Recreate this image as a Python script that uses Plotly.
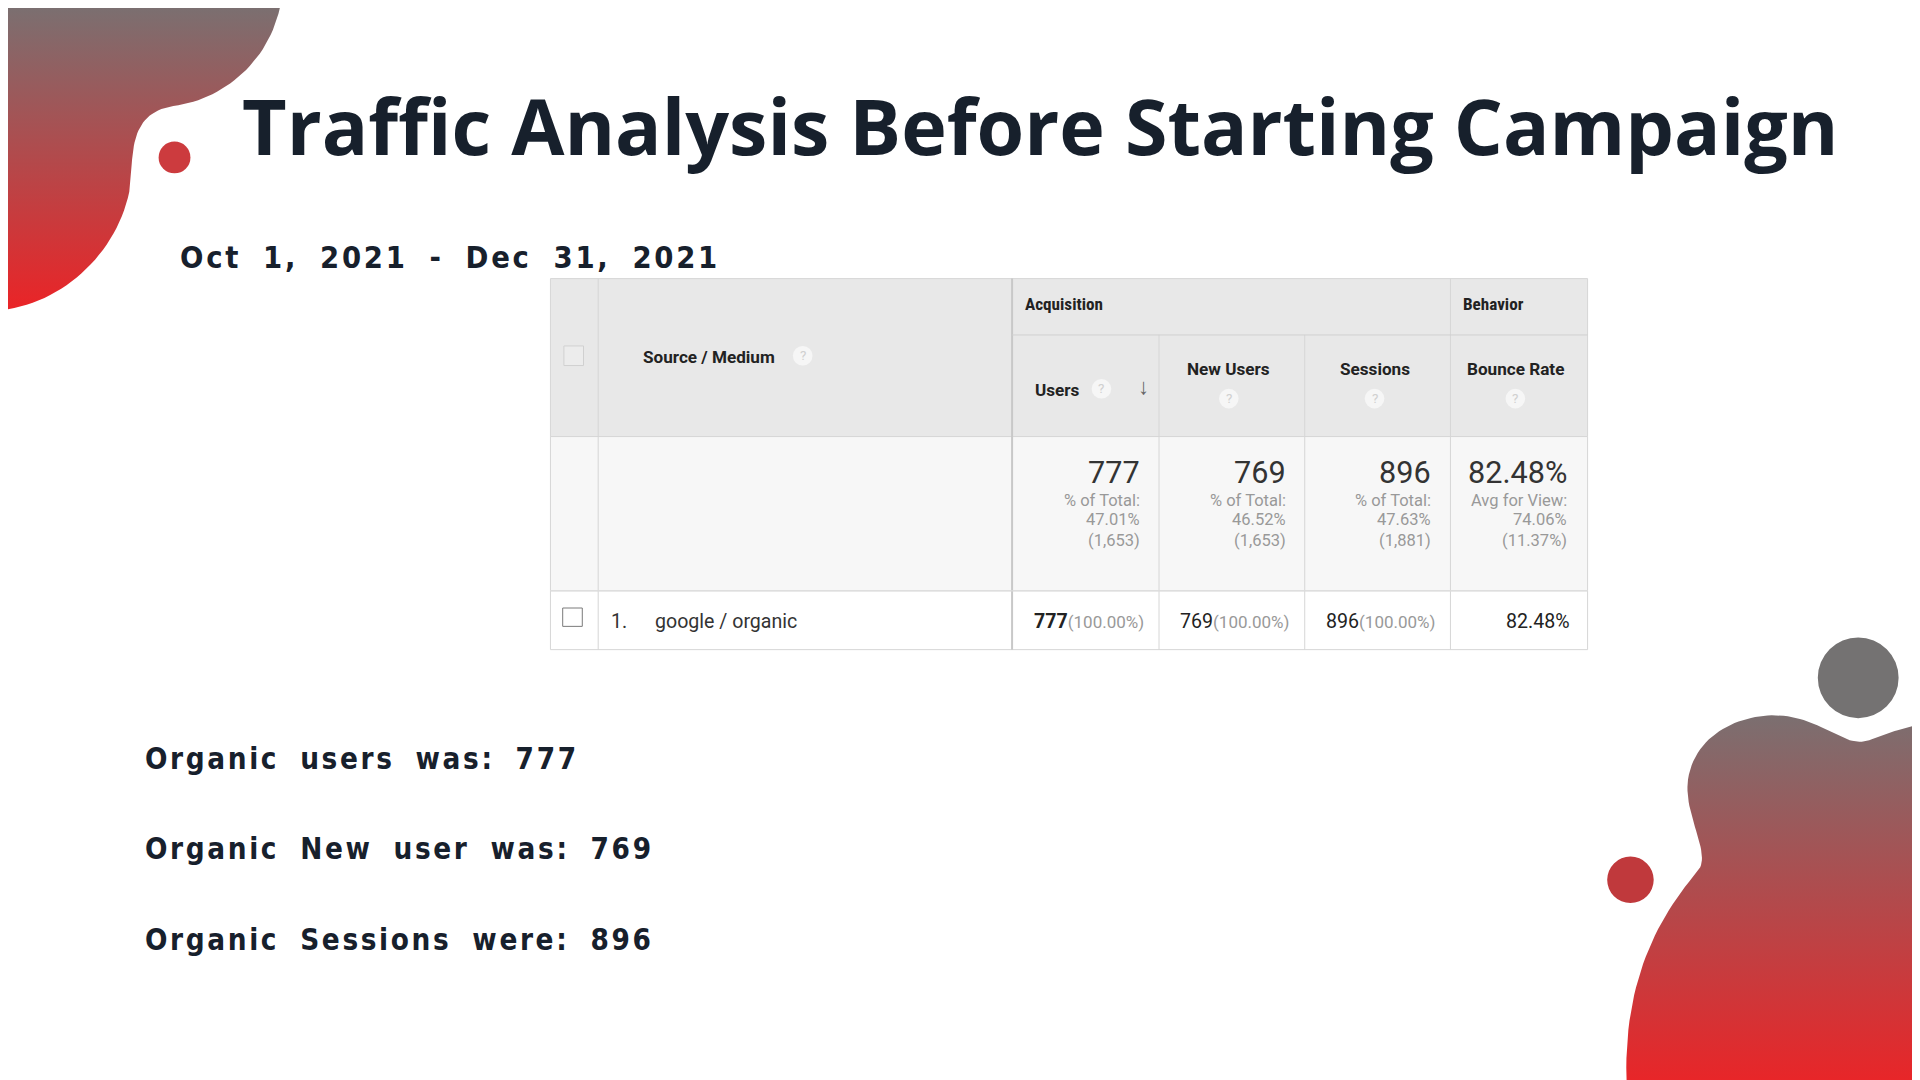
import numpy as np
import plotly.graph_objects as go

W, H = 1568, 882
S = 1920 / W  # font scale from reference units to screen px

title = "Traffic Analysis Before Starting Campaign"
date_range = "Oct 1, 2021 - Dec 31, 2021"
columns = ["Users", "New Users", "Sessions", "Bounce Rate"]
totals = ["777", "769", "896", "82.48%"]
total_labels = ["% of Total:", "% of Total:", "% of Total:", "Avg for View:"]
total_pcts = ["47.01%", "46.52%", "47.63%", "74.06%"]
total_base = ["(1,653)", "(1,653)", "(1,881)", "(11.37%)"]
row_source = "google / organic"
row_values = ["777", "769", "896", "82.48%"]
row_shares = ["(100.00%)", "(100.00%)", "(100.00%)", ""]
summary = ["Organic users was: 777", "Organic New user was: 769", "Organic Sessions were: 896"]

col_x = [443, 482, 820, 940, 1059, 1178, 1290]
row_y = [221, 267, 350, 476, 524]


def spaced(s):
    # wide tracking of the slide's condensed font
    return "\u200a".join(list(s)).replace(" ", "  ")


def bezier(p0, p1, p2, p3, n=30):
    t = np.linspace(0, 1, n)[:, None]
    p = (1 - t) ** 3 * np.array(p0) + 3 * (1 - t) ** 2 * t * np.array(p1) \
        + 3 * (1 - t) * t ** 2 * np.array(p2) + t ** 3 * np.array(p3)
    return p


def path(start, curves):
    pts = [np.array([start])]
    cur = start
    for c in curves:
        if len(c) == 1:
            pts.append(np.array([c[0]]))
            cur = c[0]
        else:
            pts.append(bezier(cur, *c))
            cur = c[-1]
    p = np.vstack(pts)
    return p[:, 0], p[:, 1]


fig = go.Figure()
red, grey = "#ea2427", "#7b6f70"

# top-left blob
bx, by = path((0, 0), [
    [(222, 0)],
    ((212, 45), (175, 75), (135, 80)),
    ((100, 86), (102, 115), (100, 145)),
    ((92, 195), (50, 238), (0, 246)),
    [(0, 0)],
])
fig.add_trace(go.Scatter(x=bx, y=by, fill="toself", mode="lines", line=dict(width=0),
                         fillgradient=dict(type="vertical", start=246, stop=0,
                                           colorscale=[[0, red], [1, grey]]),
                         hoverinfo="skip", showlegend=False))

# bottom-right blob
bx, by = path((1322, 882), [
    ((1318, 800), (1345, 745), (1380, 705)),
    ((1392, 690), (1368, 660), (1372, 630)),
    ((1378, 590), (1420, 575), (1450, 578)),
    ((1485, 582), (1500, 605), (1520, 598)),
    ((1540, 590), (1555, 586), (1568, 584)),
    [(1568, 882)],
    [(1322, 882)],
])
fig.add_trace(go.Scatter(x=bx, y=by, fill="toself", mode="lines", line=dict(width=0),
                         fillgradient=dict(type="vertical", start=882, stop=578,
                                           colorscale=[[0, red], [1, grey]]),
                         hoverinfo="skip", showlegend=False))

shapes = []


def circle(cx, cy, r, color, line=None):
    shapes.append(dict(type="circle", x0=cx - r, x1=cx + r, y0=cy - r, y1=cy + r,
                       fillcolor=color, line=dict(width=1 if line else 0, color=line or color)))


circle(136, 122, 13, "#cc3b3e")
circle(1511, 547, 33, "#747272")
circle(1325, 712, 19, "#c0393c")


def rect(x0, y0, x1, y1, fill, lc="#d6d6d6", lw=1):
    shapes.append(dict(type="rect", x0=x0, x1=x1, y0=y0, y1=y1, fillcolor=fill,
                       line=dict(color=lc, width=lw)))


rect(col_x[0], row_y[0], col_x[-1], row_y[2], "#e8e8e8")
rect(col_x[0], row_y[2], col_x[-1], row_y[3], "#f7f7f7")
rect(col_x[0], row_y[3], col_x[-1], row_y[4], "#ffffff")
for x in col_x[1:-1]:
    y0 = row_y[1] if x in col_x[3:5] else row_y[0]
    lw = 2 if x == 820 else 1
    shapes.append(dict(type="line", x0=x, x1=x, y0=y0, y1=row_y[4],
                       line=dict(color="#c8c8c8" if x == 820 else "#d6d6d6", width=lw)))
shapes.append(dict(type="line", x0=820, x1=1290, y0=267, y1=267, line=dict(color="#d0d0d0", width=1)))
shapes.append(dict(type="line", x0=443, x1=1290, y0=476, y1=476, line=dict(color="#dedede", width=1)))
rect(454, 276, 470, 292, "#ececec", "#d0d0d0")
rect(453, 490, 469, 505, "#ffffff", "#7a7a7a")

ann = []


def text(x, y, t, size, color="#222", bold=False, xanchor="left", family="Roboto, Arial"):
    ann.append(dict(x=x, y=y, text=f"<b>{t}</b>" if bold else t, showarrow=False,
                    xanchor=xanchor, yanchor="middle",
                    font=dict(size=size * S, color=color, family=family)))


def qmark(cx, cy):
    circle(cx, cy, 8, "#f6f6f6")
    text(cx, cy, "?", 11, "#d0d0d0", xanchor="center")


cond = "DejaVu Sans Condensed, Liberation Sans Narrow"
text(843, 96, title, 63, "#17202c", True, "center", "Open Sans")
text(139, 204, spaced(date_range), 25, "#17202c", True, family=cond)
for i, s in enumerate(summary):
    text(110, 613 + 74 * i, spaced(s), 24, "#17202c", True, family=cond)

text(829, 242, "Acquisition", 14, "#222", True, family="Roboto Condensed, Roboto")
text(1187, 242, "Behavior", 14, "#222", True, family="Roboto Condensed, Roboto")
text(517, 285, "Source / Medium", 14, "#222", True)
qmark(649, 284)
text(837, 312, columns[0], 14, "#222", True)
qmark(893, 311)
text(927, 309, "\u2193", 18, "#666", True, "center")
centers = [880, 997, 1116, 1231]
for j in range(1, 4):
    text(centers[j], 295, columns[j], 14, "#222", True, "center")
    qmark(centers[j], 319)

rights = [926, 1045, 1164, 1275]
for j in range(4):
    text(rights[j], 379, totals[j], 25, "#333", xanchor="right")
    text(rights[j], 402, total_labels[j], 13.5, "#999", xanchor="right")
    text(rights[j], 418, total_pcts[j], 13.5, "#999", xanchor="right")
    text(rights[j], 435, total_base[j], 13.5, "#999", xanchor="right")

text(491, 501, "1.", 16, "#333")
text(527, 501, row_source, 16, "#333")
for j in range(4):
    if row_shares[j]:
        val = (f"<b>{row_values[j]}</b>" if j == 0 else row_values[j]) + \
              f"<span style='color:#999;font-size:{13.5 * S:.0f}px'>{row_shares[j]}</span>"
        text(rights[j] + 3, 501, val, 16, "#222", xanchor="right")
    else:
        text(rights[j] + 2, 501, row_values[j], 16, "#222", xanchor="right")

fig.update_layout(
    width=1920, height=1080, margin=dict(l=0, r=0, t=0, b=0),
    paper_bgcolor="white", plot_bgcolor="white",
    xaxis=dict(range=[0, W], visible=False, fixedrange=True),
    yaxis=dict(range=[H, 0], visible=False, fixedrange=True),
    shapes=shapes, annotations=ann,
)
fig.write_html("out.html")
